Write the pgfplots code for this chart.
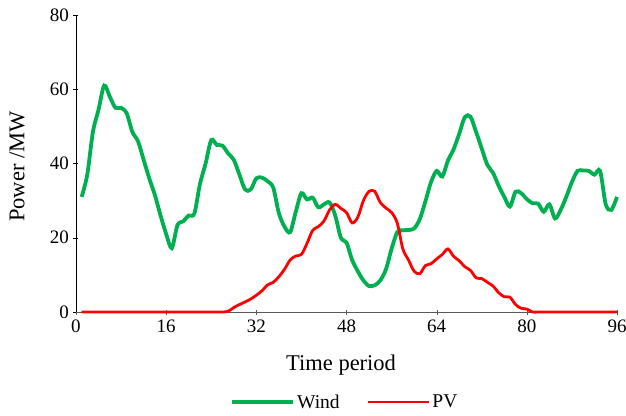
\documentclass[border=0pt]{standalone}
\usepackage{fontspec}
\setmainfont{Liberation Serif}
\newfontfamily\tnr{Liberation Serif}
\usepackage{pgfplots}
\usepackage{pgfplotstable}
\pgfplotsset{compat=1.18}
\definecolor{windgreen}{RGB}{0,176,80}
\definecolor{pvred}{RGB}{255,0,0}
\pgfplotstableread{
t wind pv
1 31 0
2 37 0
3 48.5 0
4 54.5 0
5 61 0
6 58 0
7 55 0
8 55 0
9 53.5 0
10 48.5 0
11 46 0
12 41 0
13 36 0
14 31.5 0
15 26 0
16 21 0
17 17.2 0
18 23.4 0
19 24.4 0
20 26 0
21 26.5 0
22 34.5 0
23 40 0
24 46.3 0
25 45 0
26 44.8 0
27 42.7 0.2
28 41 1.2
29 37 2
30 33 2.7
31 33 3.5
32 36 4.5
33 36.2 5.7
34 35.2 7.3
35 33.5 8
36 26.6 9.5
37 23 11.5
38 21.5 14
39 27 15.1
40 32 15.5
41 30.3 18.5
42 30.8 22
43 28.2 23
44 29 24.5
45 29.5 27.5
46 26 29
47 20 27.9
48 18.7 26.8
49 14 24
50 11 25.5
51 8.5 30
52 7 32.5
53 7.2 32.5
54 8.5 29.5
55 11.5 28
56 17 26.8
57 21.5 24
58 22 17
59 22.1 14
60 22.5 11
61 25 10.3
62 29.8 12.5
63 35 13
64 38 14.3
65 36.5 15.5
66 40.8 17
67 43.8 15
68 48 13.8
69 52.5 12.2
70 52.6 11.2
71 48.5 9.2
72 44 9
73 39.6 8
74 37.5 7
75 34 5.2
76 31 4.1
77 28.4 4
78 32.4 2
79 32 1
80 30.4 0.8
81 29.3 0
82 29.2 0
83 27 0
84 29 0
85 25.2 0
86 27.5 0
87 31 0
88 35 0
89 38 0
90 38.1 0
91 38 0
92 37 0
93 38 0
94 29 0
95 27.5 0
96 31 0
}\datatable
\begin{document}
\begin{tikzpicture}
\begin{axis}[
  scale only axis,
  width=541pt, height=297pt,
  xmin=0, xmax=96, ymin=0, ymax=80,
  xtick={0,16,...,96}, ytick={0,20,...,80},
  axis lines=left,
  axis line style={-},
  x axis line style={draw=gray!70!black},
  x tick style={draw=gray!70!black},
  y tick style={draw=black},
  major tick length=5pt,
  tick label style={font=\tnr\fontsize{19}{22}\selectfont},
  yticklabel style={xshift=-1pt},
  xticklabel style={yshift=-2pt},
  /pgf/number format/assume math mode=true,
  xlabel={Time period},
  ylabel={Power /MW},
  label style={font=\tnr\fontsize{22.5}{26}\selectfont},
  xlabel style={at={(axis description cs:0.49,-0.178)}, anchor=center},
  ylabel style={at={(axis description cs:-0.109,0.49)}, anchor=center, rotate=0},
  legend style={at={(axis description cs:0.497,-0.303)}, anchor=center, draw=none, fill=none,
    legend columns=-1, font=\tnr\fontsize{19.5}{22}\selectfont,
    /tikz/every even column/.append style={column sep=25pt}},
  legend image code/.code={\draw[#1] (0pt,0pt) -- (61pt,0pt);},
  clip=false,
]
\addplot[windgreen, line width=3.8pt, smooth] table[x=t, y=wind] {\datatable};
\addlegendentry{Wind}
\addplot[pvred, line width=2.8pt, smooth] table[x=t, y=pv] {\datatable};
\addlegendentry{PV}
\end{axis}
\pgfresetboundingbox
\path (-76pt,-103pt) rectangle (550pt,312pt);
\end{tikzpicture}
\end{document}
